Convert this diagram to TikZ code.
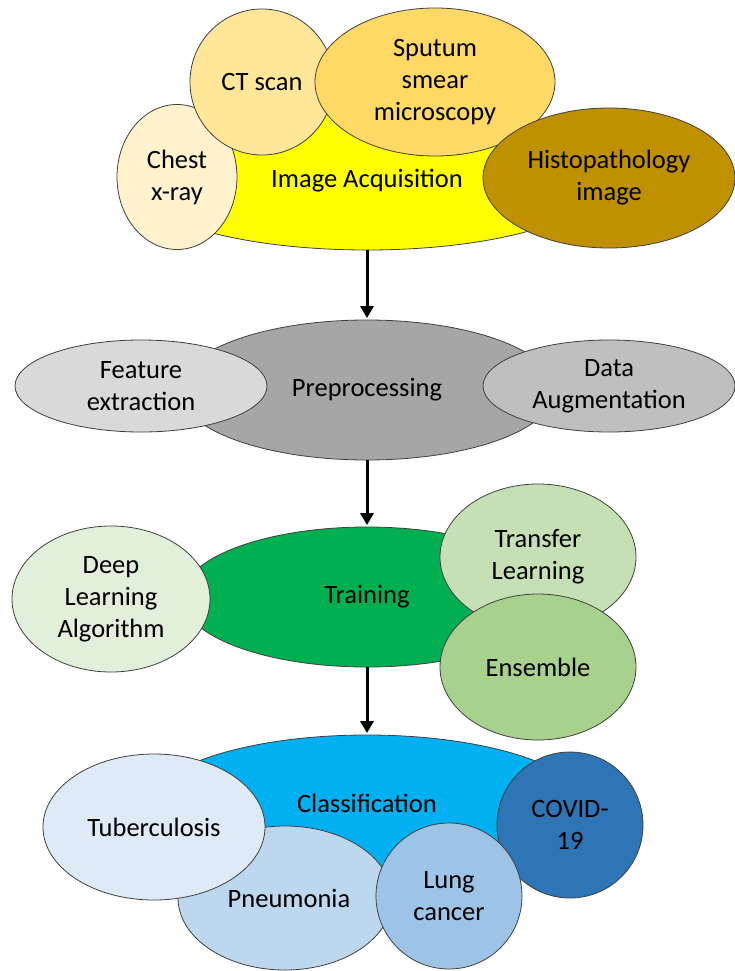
\documentclass[tikz,border=0pt]{standalone}
\usepackage{fontspec}
\setmainfont{Carlito}
\usetikzlibrary{shapes.geometric,arrows.meta}
\definecolor{cAcq}{HTML}{FFFF00}
\definecolor{cChest}{HTML}{FFF2CC}
\definecolor{cCT}{HTML}{FFE699}
\definecolor{cSput}{HTML}{FFD966}
\definecolor{cHist}{HTML}{BF9000}
\definecolor{cPre}{HTML}{A6A6A6}
\definecolor{cFeat}{HTML}{D9D9D9}
\definecolor{cAug}{HTML}{BFBFBF}
\definecolor{cTrain}{HTML}{00B050}
\definecolor{cDL}{HTML}{E2EFDA}
\definecolor{cTL}{HTML}{C5E0B4}
\definecolor{cEns}{HTML}{A9D18E}
\definecolor{cCls}{HTML}{00B0F0}
\definecolor{cTB}{HTML}{DEEBF7}
\definecolor{cPn}{HTML}{BDD7EE}
\definecolor{cLung}{HTML}{9DC3E6}
\definecolor{cCov}{HTML}{2E75B6}
\definecolor{cEdge}{HTML}{404040}
\begin{document}
\begin{tikzpicture}[x=1pt,y=-1pt,
  blob/.style={ellipse, draw=cEdge, line width=0.8pt, inner sep=0pt, align=center,
    font=\fontsize{26.5}{32}\selectfont, text=black},
  arr/.style={line width=3pt, shorten >=1.5pt, -{Triangle[length=12pt,width=13pt]}}]
\useasboundingbox (0,0) rectangle (735,971);
\fill[white] (0,0) rectangle (735,971);
% --- Image acquisition
\node[blob, fill=cAcq, minimum width=470pt, minimum height=138pt] (acq) at (367,181) {Image Acquisition};
\node[blob, fill=cChest, minimum width=120pt, minimum height=145pt] (chest) at (177,177) {Chest\\x-ray};
\node[blob, fill=cCT, minimum width=144pt, minimum height=146pt] (ct) at (262,82) {CT scan};
\node[blob, fill=cSput, minimum width=240pt, minimum height=148pt] (sput) at (435,82) {Sputum\\smear\\microscopy};
\node[blob, fill=cHist, minimum width=252pt, minimum height=140pt] (hist) at (609,178) {Histopathology\\image};
% --- Preprocessing
\node[blob, fill=cPre, minimum width=376pt, minimum height=140pt] (pre) at (367,390) {Preprocessing};
\node[blob, fill=cFeat, minimum width=252pt, minimum height=92pt] (feat) at (141,386) {Feature\\extraction};
\node[blob, fill=cAug, minimum width=252pt, minimum height=92pt] (aug) at (609,386) {Data\\Augmentation};
% --- Training
\node[blob, fill=cTrain, minimum width=370pt, minimum height=140pt] (train) at (367,597) {Training};
\node[blob, fill=cDL, minimum width=198pt, minimum height=146pt] (dl) at (111,599) {Deep\\Learning\\Algorithm};
\node[blob, fill=cTL, minimum width=196pt, minimum height=146pt] (tl) at (538,557) {Transfer\\Learning};
\node[blob, fill=cEns, minimum width=196pt, minimum height=146pt] (ens) at (538,667) {Ensemble};
% --- Classification
\node[blob, fill=cCls, minimum width=440pt, minimum height=146pt, text depth=10pt] (cls) at (367,808) {Classification};
\node[blob, fill=cCov, minimum width=146pt, minimum height=146pt] (cov) at (570,825) {COVID-\\19};
\node[blob, fill=cPn, minimum width=214pt, minimum height=144pt] (pn) at (285,898) {\hspace*{8pt}Pneumonia};
\node[blob, fill=cTB, minimum width=222pt, minimum height=146pt] (tb) at (154,827) {Tuberculosis};
\node[blob, fill=cLung, minimum width=146pt, minimum height=146pt] (lung) at (449,896) {Lung\\cancer};
% --- arrows
\draw[arr] (acq.south) -- (pre.north);
\draw[arr] (pre.south) -- (train.north);
\draw[arr] (train.south) -- (cls.north);
\end{tikzpicture}
\end{document}
